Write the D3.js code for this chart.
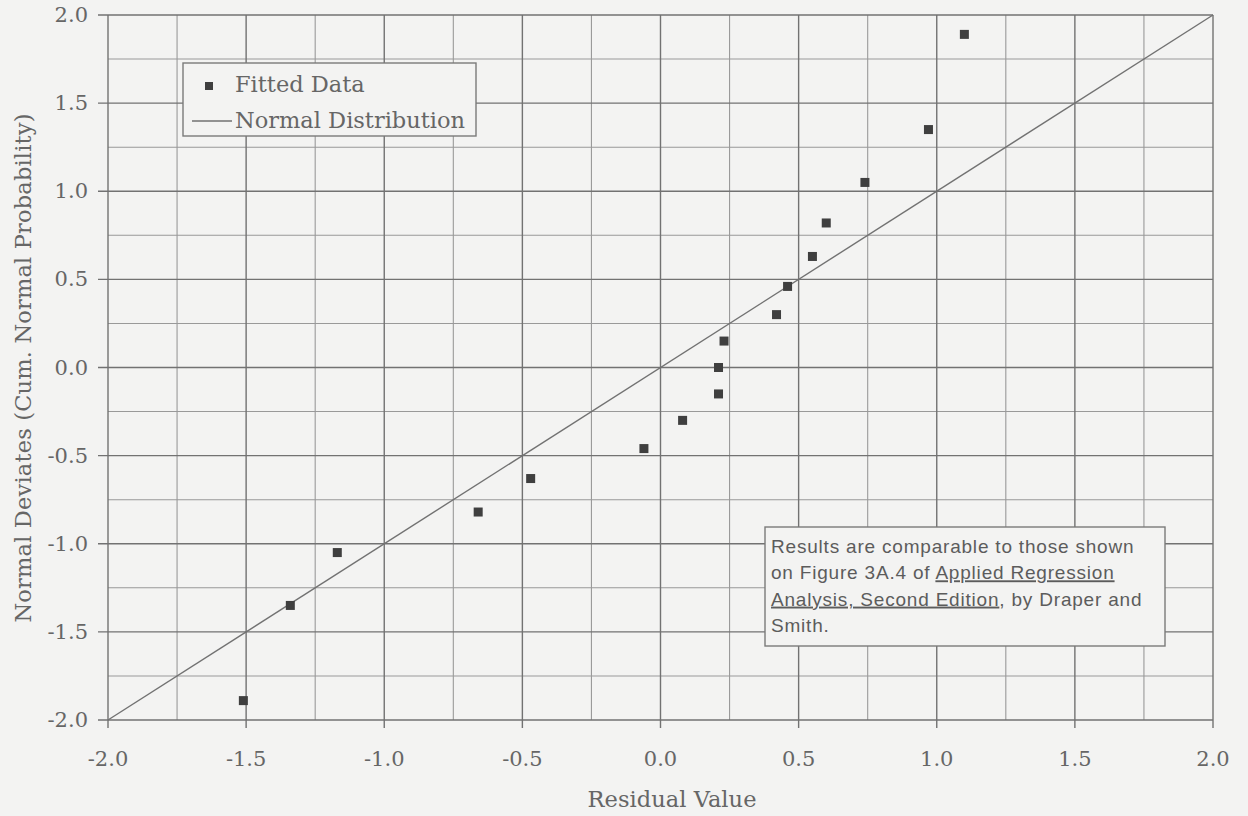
<!DOCTYPE html>
<html>
<head>
<meta charset="utf-8">
<script src="https://cdn.jsdelivr.net/npm/d3@7"></script>
<style>
    body { margin: 0; background: #f3f3f2; }
    svg { display: block; }
</style>
</head>
<body>
<svg id="canvas" width="1248" height="816"></svg>
<script>
const residuals = [-1.51, -1.34, -1.17, -0.66, -0.47, -0.06, 0.08, 0.21, 0.21, 0.23, 0.42, 0.46, 0.55, 0.60, 0.74, 0.97, 1.10];
const deviates = [-1.89, -1.35, -1.05, -0.82, -0.63, -0.46, -0.30, -0.15, 0.00, 0.15, 0.30, 0.46, 0.63, 0.82, 1.05, 1.35, 1.89];
const majorTicks = [-2.0, -1.5, -1.0, -0.5, 0.0, 0.5, 1.0, 1.5, 2.0];
const minorTicks = [-1.75, -1.25, -0.75, -0.25, 0.25, 0.75, 1.25, 1.75];
const normalLine = [-2, 2];
const noteLines = [
    [["Results are comparable to those shown", false]],
    [["on Figure 3A.4 of ", false], ["Applied Regression", true]],
    [["Analysis, Second Edition", true], [", by Draper and", false]],
    [["Smith.", false]]
];

const serif = "'DejaVu Serif', 'Liberation Serif', serif";
const svg = d3.select("#canvas");

const x = d3.scaleLinear().domain([-2, 2]).range([108, 1213]);
const y = d3.scaleLinear().domain([-2, 2]).range([720, 15]);

// grid
const grid = svg.append("g");
grid.selectAll(".vminor").data(minorTicks).enter().append("line")
    .attr("x1", d => x(d)).attr("x2", d => x(d))
    .attr("y1", y(2)).attr("y2", y(-2))
    .attr("stroke", "#999").attr("stroke-width", 1.1);
grid.selectAll(".hminor").data(minorTicks).enter().append("line")
    .attr("y1", d => y(d)).attr("y2", d => y(d))
    .attr("x1", x(-2)).attr("x2", x(2))
    .attr("stroke", "#999").attr("stroke-width", 1.1);
grid.selectAll(".vmajor").data(majorTicks).enter().append("line")
    .attr("x1", d => x(d)).attr("x2", d => x(d))
    .attr("y1", y(2)).attr("y2", y(-2) + 8)
    .attr("stroke", "#727272").attr("stroke-width", 1.4);
grid.selectAll(".hmajor").data(majorTicks).enter().append("line")
    .attr("y1", d => y(d)).attr("y2", d => y(d))
    .attr("x1", x(-2) - 10).attr("x2", x(2))
    .attr("stroke", "#727272").attr("stroke-width", 1.4);

// tick labels
svg.append("g").selectAll("text").data(majorTicks).enter().append("text")
    .attr("x", d => x(d)).attr("y", 766)
    .attr("text-anchor", "middle")
    .attr("font-family", serif).attr("font-size", 21).attr("fill", "#666")
    .text(d => d3.format(".1f")(d).replace("−", "-"));
svg.append("g").selectAll("text").data(majorTicks).enter().append("text")
    .attr("x", 88).attr("y", d => y(d) + 7)
    .attr("text-anchor", "end")
    .attr("font-family", serif).attr("font-size", 21).attr("fill", "#666")
    .text(d => d3.format(".1f")(d).replace("−", "-"));

// axis titles
svg.append("text")
    .attr("x", 672).attr("y", 807)
    .attr("text-anchor", "middle")
    .attr("font-family", serif).attr("font-size", 22.5).attr("fill", "#666")
    .attr("textLength", 169).attr("lengthAdjust", "spacing")
    .text("Residual Value");
svg.append("text")
    .attr("transform", "translate(31,368) rotate(-90)")
    .attr("text-anchor", "middle")
    .attr("font-family", serif).attr("font-size", 22.5).attr("fill", "#666")
    .attr("textLength", 509).attr("lengthAdjust", "spacing")
    .text("Normal Deviates (Cum. Normal Probability)");

// normal distribution line
svg.append("line")
    .attr("x1", x(normalLine[0])).attr("y1", y(normalLine[0]))
    .attr("x2", x(normalLine[1])).attr("y2", y(normalLine[1]))
    .attr("stroke", "#727272").attr("stroke-width", 1.4);

// fitted data
svg.append("g").selectAll("rect")
    .data(residuals.map((r, i) => [r, deviates[i]]))
    .enter()
    .append("rect")
    .attr("x", d => x(d[0]) - 4.5)
    .attr("y", d => y(d[1]) - 4.5)
    .attr("width", 9)
    .attr("height", 9)
    .attr("fill", "#3f3f3f");

// legend
const legend = svg.append("g");
legend.append("rect")
    .attr("x", 183).attr("y", 63).attr("width", 293).attr("height", 73)
    .attr("fill", "#f3f3f2").attr("stroke", "#7a7a7a").attr("stroke-width", 1.4);
legend.append("rect")
    .attr("x", 205).attr("y", 82).attr("width", 8).attr("height", 8)
    .attr("fill", "#3f3f3f");
legend.append("line")
    .attr("x1", 192).attr("x2", 232).attr("y1", 121).attr("y2", 121)
    .attr("stroke", "#727272").attr("stroke-width", 1.4);
legend.append("text")
    .attr("x", 235).attr("y", 92)
    .attr("font-family", serif).attr("font-size", 22.5).attr("fill", "#666")
    .text("Fitted Data");
legend.append("text")
    .attr("x", 235).attr("y", 128)
    .attr("font-family", serif).attr("font-size", 22.5).attr("fill", "#666")
    .text("Normal Distribution");

// note box
const note = svg.append("g");
note.append("rect")
    .attr("x", 765).attr("y", 527).attr("width", 400).attr("height", 119)
    .attr("fill", "#f3f3f2").attr("stroke", "#7a7a7a").attr("stroke-width", 1.4);
const noteText = note.append("text")
    .attr("font-family", "'Liberation Sans', Arial, sans-serif")
    .attr("font-size", 19).attr("letter-spacing", 0.8).attr("fill", "#5c5c5c");
noteLines.forEach((line, i) => {
    line.forEach((part, j) => {
        const t = noteText.append("tspan")
            .text(part[0])
            .style("text-decoration", part[1] ? "underline" : "none");
        if (j === 0) t.attr("x", 771).attr("y", 553 + i * 26.3);
    });
});
</script>
</body>
</html>
